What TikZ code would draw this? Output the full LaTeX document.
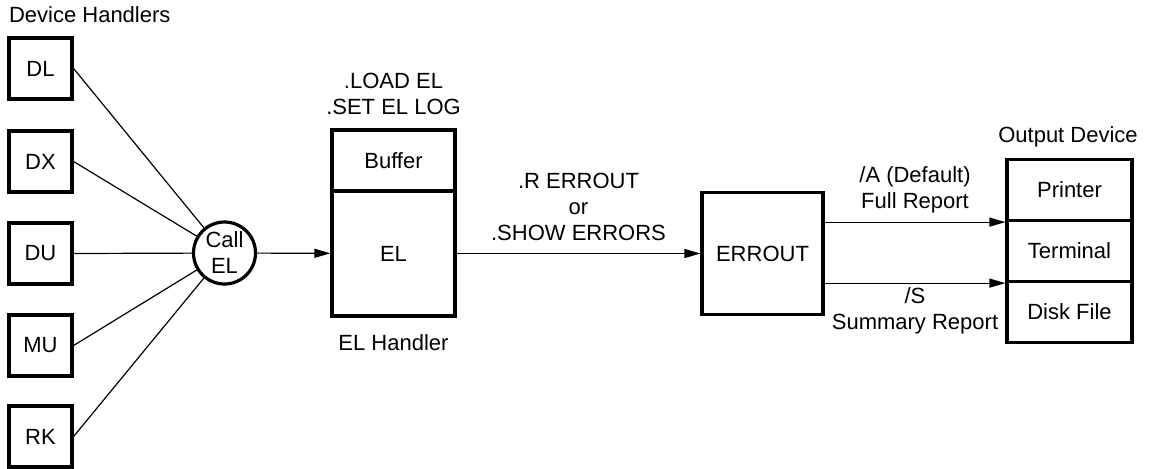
\documentclass[tikz,border=0pt]{standalone}
\usepackage{fontspec}
\setmainfont{Liberation Sans}
\usetikzlibrary{arrows.meta}

\begin{document}
\begin{tikzpicture}[x=0.5pt,y=-0.5pt,
  font=\fontsize{11}{13}\selectfont,
  box/.style={draw, line width=1.6pt, inner sep=0pt, align=center},
  devbox/.style={box, minimum width=31.5pt, minimum height=30.5pt},
  outbox/.style={box, minimum width=62.5pt, minimum height=30.5pt},
  link/.style={line width=0.6pt},
  flow/.style={line width=0.6pt, -{Triangle[length=8pt,width=4.5pt]}}]
  \useasboundingbox (0,0) rectangle (1149,468);

  %% Device handlers and the call
  \node[anchor=west] (devlabel) at (2,15) {Device Handlers};
  \node[box, circle, minimum size=31pt] (call) at (224.5,253) {Call\\EL};
  \foreach \name/\txt/\y in {dl/DL/68.5, dx/DX/161.5, du/DU/253.5, mu/MU/345.5, rk/RK/436.5}{
    \node[devbox] (\name) at (40.5,\y) {\txt};
    \draw[link] (\name.east) -- (call);
  }

  %% EL handler
  \node[box, minimum width=61.5pt, minimum height=30.5pt] (buffer) at (393.5,160.5) {Buffer};
  \node[box, minimum width=61.5pt, minimum height=62.5pt] (elbody) at (393.5,253.5) {EL};
  \node[align=center] (loadlabel) at (393.5,94) {.LOAD EL\\.SET EL LOG};
  \node (hdlabel) at (393.5,343) {EL Handler};
  \draw[flow] (call) -- (elbody);

  %% ERROUT
  \node[box, minimum width=60.5pt, minimum height=61pt] (errout) at (762.5,253.5) {ERROUT};
  \draw[flow] (elbody) -- (errout) node[midway, above=3pt, align=center] {.R ERROUT\\or\\.SHOW ERRORS};

  %% Output devices
  \node (outlabel) at (1068,137) {Output Device};
  \node[outbox] (printer) at (1069.5,190) {Printer};
  \node[outbox] (terminal) at (1069.5,251) {Terminal};
  \node[outbox] (disk) at (1069.5,312) {Disk File};
  \coordinate (fullstart) at (errout.east |- printer.south west);
  \coordinate (sumstart) at (errout.east |- terminal.south west);
  \draw[flow] (fullstart) -- (printer.south west);
  \draw[flow] (sumstart) -- (terminal.south west);
  \node[align=center] (fulllabel) at (915,190) {/A (Default)\\Full Report};
  \node[align=center] (sumlabel) at (915,311) {/S\\Summary Report};
\end{tikzpicture}
\end{document}
